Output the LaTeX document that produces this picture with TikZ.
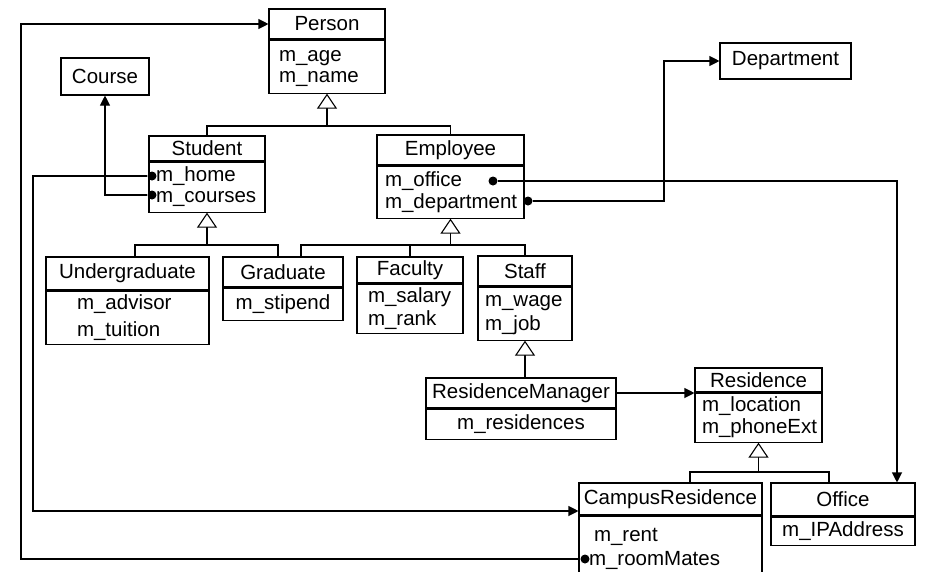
\documentclass[tikz,border=0pt]{standalone}
\usepackage{fontspec}
\setmainfont{Liberation Sans}
\usetikzlibrary{arrows.meta}
\tikzset{
  umlhead/.style={draw, line width=1.1pt, inner sep=0pt, text centered, font=\fontsize{20.5}{21}\selectfont},
  umlbody/.style={draw, line width=1.1pt, anchor=north, inner ysep=0pt, font=\fontsize{20.5}{21}\selectfont},
  umlline/.style={draw, line width=1.1pt},
  isa/.style={umlline, -{Triangle[open, length=15pt, width=20pt, fill=white]}},
  assoc/.style={umlline, -{Triangle[length=10pt, width=10pt]}},
  dot/.style={circle, fill, inner sep=0pt, minimum size=9pt},
}

\begin{document}
\begin{tikzpicture}[x=1pt, y=-1pt]%
\useasboundingbox (0,0) rectangle (935,571);%
% classes
\node[umlhead, minimum width=116pt, minimum height=30pt] (perH) at (327,24) {Person};%
\node[umlbody, minimum width=116pt, minimum height=53pt, inner xsep=10pt, text width=96pt, align=left] (perB) at (perH.south) {\strut m\_age\\m\_name};%
\node[umlhead, minimum width=88pt, minimum height=37pt] (courseN) at (105,76.5) {Course};%
\node[umlhead, minimum width=131pt, minimum height=36pt] (deptN) at (785.5,61) {Department};%
\node[umlhead, minimum width=116pt, minimum height=25pt] (stuH) at (207,148.5) {Student};%
\node[umlbody, minimum width=116pt, minimum height=50pt, inner xsep=7pt, text width=102pt, align=left] (stuB) at (stuH.south) {\strut m\_home\\m\_courses};%
\node[umlhead, minimum width=147pt, minimum height=30pt] (empH) at (450.5,150) {Employee};%
\node[umlbody, minimum width=147pt, minimum height=52pt, inner xsep=8pt, text width=131pt, align=left] (empB) at (empH.south) {\strut m\_office\\m\_department};%
\node[umlhead, minimum width=163pt, minimum height=33pt] (ugH) at (127.5,273.5) {Undergraduate};%
\node[umlbody, minimum width=163pt, minimum height=53pt, inner xsep=31pt, text width=101pt, align=left] (ugB) at (ugH.south) {\strut m\_advisor\\[4pt]m\_tuition};%
\node[umlhead, minimum width=120pt, minimum height=30pt] (gradH) at (283,272) {Graduate};%
\node[umlbody, minimum width=120pt, minimum height=32pt] (gradB) at (gradH.south) {m\_stipend};%
\node[umlhead, minimum width=106pt, minimum height=26pt] (facH) at (410,270) {Faculty};%
\node[umlbody, minimum width=106pt, minimum height=49pt, inner xsep=11pt, text width=84pt, align=left] (facB) at (facH.south) {\strut m\_salary\\m\_rank};%
\node[umlhead, minimum width=94pt, minimum height=30pt] (staffH) at (525,271) {Staff};%
\node[umlbody, minimum width=94pt, minimum height=53pt, inner xsep=7pt, text width=80pt, align=left] (staffB) at (staffH.south) {\strut m\_wage\\[2pt]m\_job};%
\node[umlhead, minimum width=190pt, minimum height=30pt] (rmH) at (521,393) {ResidenceManager};%
\node[umlbody, minimum width=190pt, minimum height=30pt] (rmB) at (rmH.south) {m\_residences};%
\node[umlhead, minimum width=127pt, minimum height=24pt] (resH) at (758.5,380) {Residence};%
\node[umlbody, minimum width=127pt, minimum height=49pt, inner xsep=7pt, text width=113pt, align=left] (resB) at (resH.south) {\strut m\_location\\m\_phoneExt};%
\node[umlhead, minimum width=183pt, minimum height=32pt] (campH) at (670.5,499) {CampusResidence};%
\node[umlbody, minimum width=183pt, minimum height=65pt, inner xsep=10pt, text width=163pt, align=left] (campB) at (campH.south) {\hspace*{5pt}m\_rent\\[3pt]m\_roomMates};%
\node[umlhead, minimum width=144pt, minimum height=33pt] (offH) at (843,499.5) {Office};%
\node[umlbody, minimum width=144pt, minimum height=28pt] (offB) at (offH.south) {m\_IPAddress};%
% inheritance
\coordinate (perBar) at (327,126);%
\coordinate (stuBar) at (207,245);%
\coordinate (empBar) at (450.5,245);%
\coordinate (resBar) at (758.5,472);%
\draw[umlline] (stuH.north) |- (perBar) -| (empH.north);%
\draw[isa] (perBar) -- (perB.south);%
\draw[umlline] ([xshift=7.5pt]ugH.north) |- (stuBar) -| ([xshift=-5pt]gradH.north);%
\draw[isa] (stuBar) -- (stuB.south);%
\draw[umlline] ([xshift=18pt]gradH.north) |- (empBar) -| (staffH.north);%
\draw[umlline] (facH.north) -- (facH.north |- empBar);%
\draw[isa] (empBar) -- (empB.south);%
\draw[isa] (rmH.north -| staffB.south) -- (staffB.south);%
\draw[umlline] ([xshift=19.5pt]campH.north) |- (resBar) -| ([xshift=-14pt]offH.north);%
\draw[isa] (resBar) -- (resB.south);%
% associations
\node[dot] (dHome) at (152,176) {};%
\node[dot] (dCourses) at (152,195) {};%
\node[dot] (dOffice) at (493,181) {};%
\node[dot] (dDept) at (528,201) {};%
\node[dot] (dMates) at (585,559) {};%
\coordinate (homeTurn) at (33,511);%
\coordinate (matesTurn) at (21,24);%
\coordinate (deptTurn) at (664,61);%
\draw[assoc] (dMates) -| (matesTurn) -- (perH.west);%
\draw[assoc] (dHome) -| (homeTurn) -- (homeTurn -| campH.west);%
\draw[assoc] (dCourses) -| (courseN.south);%
\draw[assoc] (dOffice) -| ([xshift=54pt]offH.north);%
\draw[assoc] (dDept) -| (deptTurn) -- (deptN.west);%
\draw[assoc] (rmH.east) -- (rmH.east -| resB.west);%
\end{tikzpicture}
\end{document}
